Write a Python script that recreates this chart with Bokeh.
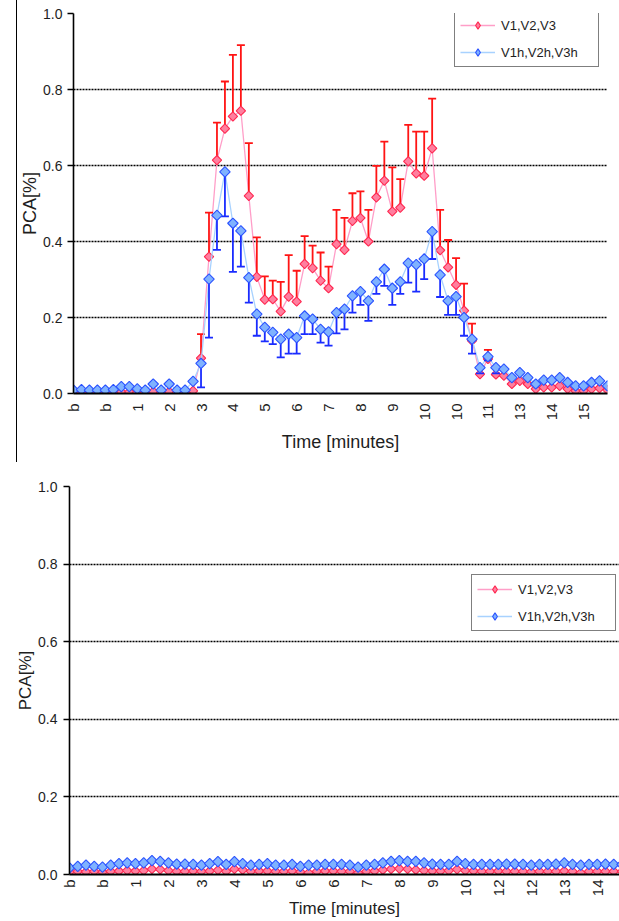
import numpy as np
from bokeh.plotting import figure
from bokeh.models import (Range1d, FixedTicker, PrintfTickFormatter, Legend, LegendItem,
                          ColumnDataSource, Div)
from bokeh.layouts import column, row
from bokeh.embed import file_html
from bokeh.resources import INLINE

# ---------------- data ----------------
top_tick_labels = ["b", "b", "1", "2", "3", "4", "5", "6", "7", "8", "9",
                   "10", "10", "11", "13", "14", "15"]
bottom_tick_labels = ["b", "b", "1", "2", "3", "4", "5", "6", "6", "7", "8",
                      "9", "10", "12", "12", "13", "14"]
tick_every = 4
y_ticks = [0.0, 0.2, 0.4, 0.6, 0.8, 1.0]

series_names = ["V1,V2,V3", "V1h,V2h,V3h"]

top_v = [0.003, 0.003, 0.003, 0.003, 0.003, 0.003, 0.004, 0.004, 0.003, 0.003,
         0.005, 0.003, 0.005, 0.003, 0.003, 0.007, 0.093, 0.360, 0.614, 0.697,
         0.729, 0.744, 0.520, 0.307, 0.247, 0.248, 0.216, 0.255, 0.242, 0.341,
         0.330, 0.297, 0.277, 0.393, 0.378, 0.454, 0.462, 0.400, 0.516, 0.560,
         0.479, 0.489, 0.611, 0.579, 0.573, 0.645, 0.377, 0.332, 0.286, 0.218,
         0.139, 0.051, 0.091, 0.050, 0.047, 0.025, 0.033, 0.025, 0.012, 0.016,
         0.016, 0.020, 0.012, 0.007, 0.007, 0.012, 0.014, 0.009]
top_v_err_plus = [0, 0, 0, 0, 0, 0, 0, 0, 0, 0,
                  0, 0, 0, 0, 0, 0, 0.063, 0.116, 0.099, 0.124,
                  0.162, 0.173, 0.139, 0.104, 0.061, 0.049, 0.078, 0.109, 0.081, 0.073,
                  0.059, 0.074, 0.057, 0.090, 0.084, 0.073, 0.070, 0.083, 0.083, 0.103,
                  0.116, 0.075, 0.096, 0.110, 0.116, 0.131, 0.106, 0.072, 0.070, 0.071,
                  0.045, 0.015, 0.024, 0, 0, 0, 0, 0, 0, 0,
                  0, 0, 0, 0, 0, 0, 0, 0]
top_vh = [0.009, 0.010, 0.009, 0.009, 0.009, 0.010, 0.018, 0.018, 0.012, 0.009,
          0.025, 0.009, 0.025, 0.009, 0.009, 0.032, 0.079, 0.301, 0.469, 0.583,
          0.448, 0.428, 0.305, 0.209, 0.174, 0.161, 0.143, 0.156, 0.147, 0.204,
          0.196, 0.169, 0.162, 0.213, 0.222, 0.257, 0.268, 0.244, 0.294, 0.327,
          0.277, 0.294, 0.343, 0.339, 0.354, 0.426, 0.312, 0.244, 0.255, 0.200,
          0.143, 0.068, 0.097, 0.068, 0.064, 0.042, 0.055, 0.042, 0.025, 0.035,
          0.035, 0.042, 0.029, 0.020, 0.020, 0.029, 0.033, 0.020]
top_vh_err_minus = [0, 0, 0, 0, 0, 0, 0, 0, 0, 0,
                    0, 0, 0, 0, 0, 0, 0.063, 0.154, 0.091, 0.117,
                    0.128, 0.094, 0.066, 0.057, 0.037, 0.031, 0.048, 0.051, 0.042, 0.048,
                    0.040, 0.035, 0.036, 0.055, 0.053, 0.044, 0.035, 0.053, 0.032, 0.044,
                    0.044, 0.032, 0.051, 0.071, 0.053, 0.072, 0.058, 0.037, 0.048, 0.048,
                    0.038, 0.015, 0.010, 0.015, 0, 0, 0, 0, 0, 0,
                    0, 0, 0, 0, 0, 0, 0, 0]

bottom_v = [0.006, 0.008, 0.007, 0.008, 0.006, 0.008, 0.009, 0.010, 0.009, 0.010,
            0.014, 0.013, 0.010, 0.008, 0.008, 0.009, 0.008, 0.009, 0.011, 0.008,
            0.014, 0.012, 0.008, 0.009, 0.009, 0.008, 0.008, 0.009, 0.007, 0.004,
            0.008, 0.009, 0.009, 0.008, 0.008, 0.004, 0.008, 0.009, 0.012, 0.014,
            0.015, 0.014, 0.012, 0.010, 0.009, 0.009, 0.010, 0.013, 0.010, 0.009,
            0.008, 0.008, 0.009, 0.008, 0.008, 0.008, 0.007, 0.008, 0.008, 0.008,
            0.009, 0.008, 0.004, 0.008, 0.008, 0.008, 0.008, 0.008]
bottom_vh = [0.017, 0.021, 0.024, 0.021, 0.019, 0.024, 0.028, 0.030, 0.028, 0.030,
             0.036, 0.034, 0.030, 0.027, 0.027, 0.026, 0.024, 0.028, 0.033, 0.026,
             0.033, 0.028, 0.024, 0.026, 0.028, 0.024, 0.024, 0.026, 0.021, 0.024,
             0.024, 0.026, 0.026, 0.026, 0.024, 0.019, 0.024, 0.026, 0.030, 0.034,
             0.036, 0.034, 0.034, 0.030, 0.027, 0.026, 0.026, 0.034, 0.028, 0.026,
             0.026, 0.026, 0.026, 0.027, 0.027, 0.026, 0.024, 0.026, 0.026, 0.027,
             0.030, 0.026, 0.024, 0.026, 0.026, 0.027, 0.026, 0.026]

# ---------------- style ----------------
FONT = "Liberation Sans"
TXT = "#1e1e1e"
RED_LINE = "#ff9ec8"
RED_FILL = "#ff7f9f"
RED_EDGE = "#ff2850"
RED_ERR = "#ff1414"
BLUE_LINE = "#a8d2ff"
BLUE_FILL = "#7fb2ff"
BLUE_EDGE = "#2a52ff"
BLUE_ERR = "#1a2cff"


def base_fig(width, height, x_end, labels, mb_left, mb_right, mb_top, mb_bottom,
             title_size, label_standoff, title_standoff):
    p = figure(width=width, height=height, x_range=Range1d(0, x_end),
               y_range=Range1d(0, 1), output_backend="svg", toolbar_location=None,
               min_border_left=mb_left, min_border_right=mb_right,
               min_border_top=mb_top, min_border_bottom=mb_bottom)
    p.outline_line_color = None
    p.background_fill_color = "white"
    p.border_fill_color = "white"
    p.xgrid.grid_line_color = None
    p.ygrid.ticker = FixedTicker(ticks=y_ticks[1:])
    p.ygrid.grid_line_color = "black"
    p.ygrid.grid_line_dash = "2 1"
    p.ygrid.grid_line_width = 1.3

    yax = p.yaxis[0]
    yax.ticker = FixedTicker(ticks=y_ticks)
    yax.formatter = PrintfTickFormatter(format="%.1f")
    yax.axis_line_color = "black"
    yax.axis_line_width = 1.6
    yax.major_tick_out = 6
    yax.major_tick_in = 0
    yax.major_tick_line_color = "black"
    yax.major_tick_line_width = 1.3
    yax.minor_tick_line_color = None
    yax.major_label_standoff = 6
    yax.major_label_text_font = FONT
    yax.major_label_text_font_size = "14px"
    yax.major_label_text_color = TXT
    yax.axis_label = "PCA[%]"
    yax.axis_label_text_font = FONT
    yax.axis_label_text_font_size = f"{title_size}px"
    yax.axis_label_text_font_style = "normal"
    yax.axis_label_text_color = TXT
    yax.axis_label_standoff = 0

    xax = p.xaxis[0]
    ticks = [i * tick_every for i in range(len(labels))]
    xax.ticker = FixedTicker(ticks=ticks)
    xax.major_label_overrides = {t: lab for t, lab in zip(ticks, labels)}
    xax.major_label_orientation = np.pi / 2
    xax.axis_line_color = "black"
    xax.axis_line_width = 2.2
    xax.major_tick_line_color = None
    xax.major_tick_out = 0
    xax.major_tick_in = 0
    xax.minor_tick_line_color = None
    xax.major_label_standoff = label_standoff
    xax.major_label_text_font = FONT
    xax.major_label_text_font_size = "15px"
    xax.major_label_text_color = TXT
    xax.axis_label = "Time [minutes]"
    xax.axis_label_text_font = FONT
    xax.axis_label_text_font_size = f"{title_size}px"
    xax.axis_label_text_font_style = "normal"
    xax.axis_label_text_color = TXT
    xax.axis_label_standoff = title_standoff
    return p


def draw_series(p, values, line_color, fill, edge, size, err=None, err_sign=1, err_color=None):
    x = list(range(len(values)))
    src = ColumnDataSource(dict(x=x, y=values))
    ln = p.line("x", "y", source=src, line_color=line_color, line_width=1.3)
    if err is not None:
        ex, ey0, ey1 = [], [], []
        for xi, v, e in zip(x, values, err):
            if e > 0:
                ex.append(xi)
                ey0.append(v)
                ey1.append(v + err_sign * e)
        esrc = ColumnDataSource(dict(x=ex, y0=ey0, y1=ey1))
        p.segment(x0="x", y0="y0", x1="x", y1="y1", source=esrc,
                  line_color=err_color, line_width=1.8)
        p.scatter(x="x", y="y1", source=esrc, marker="dash", size=8,
                  line_color=err_color, line_width=1.8)
    p.scatter("x", "y", source=src, marker="square", angle=np.pi / 4,
              size=size, fill_color=fill, line_color=edge, line_width=1.1)
    # legend key: a diamond glyph with a single missing (NaN) point, so it only
    # shows up inside the legend
    key_src = ColumnDataSource(dict(x=np.array([np.nan]), y=np.array([np.nan])))
    key = p.scatter("x", "y", source=key_src, marker="diamond", fill_color=fill,
                    line_color=edge, line_width=1.1)
    return ln, key


def add_legend(p, items, loc):
    leg = Legend(items=[LegendItem(label=lab, renderers=list(rs)) for lab, rs in items],
                 location=loc)
    leg.margin = 0
    leg.padding = 5
    leg.spacing = 9
    leg.glyph_width = 35
    leg.glyph_height = 18
    leg.label_height = 18
    leg.label_width = 92
    leg.label_standoff = 6
    leg.label_text_font = FONT
    leg.label_text_font_size = "13px"
    leg.label_text_color = TXT
    leg.border_line_color = "black"
    leg.border_line_width = 1.6
    leg.background_fill_color = "white"
    leg.background_fill_alpha = 1.0
    p.add_layout(leg)


# ---------------- top panel (page x 17..619, y 0..462) ----------------
p1 = base_fig(602, 462, len(top_v) - 1, top_tick_labels, 52, 12, 13, 69, 18, 10, 9)
p1.yaxis[0].major_label_standoff = 5
r1 = draw_series(p1, top_v, RED_LINE, RED_FILL, RED_EDGE, 6.6,
                 err=top_v_err_plus, err_sign=1, err_color=RED_ERR)
b1 = draw_series(p1, top_vh, BLUE_LINE, BLUE_FILL, BLUE_EDGE, 7.4,
                 err=top_vh_err_minus, err_sign=-1, err_color=BLUE_ERR)
add_legend(p1, [(series_names[0], r1), (series_names[1], b1)], (381, 326))

# ---------------- bottom panel (page x 0..619, y 462..921) ----------------
p2 = base_fig(619, 459, 66.7, bottom_tick_labels, 69, 0, 24, 47, 17, 5, 0)
r2 = draw_series(p2, bottom_v, RED_LINE, RED_FILL, RED_EDGE, 6.6)
b2 = draw_series(p2, bottom_vh, BLUE_LINE, BLUE_FILL, BLUE_EDGE, 7.4)
add_legend(p2, [(series_names[0], r2), (series_names[1], b2)], (402, 243))

frame_line = Div(text="", width=1, height=462, margin=(0, 0, 0, 16),
                 styles={"background-color": "black"})
layout = column(row(frame_line, p1), p2)

open("out.html", "w").write(file_html(layout, INLINE, "PCA"))
